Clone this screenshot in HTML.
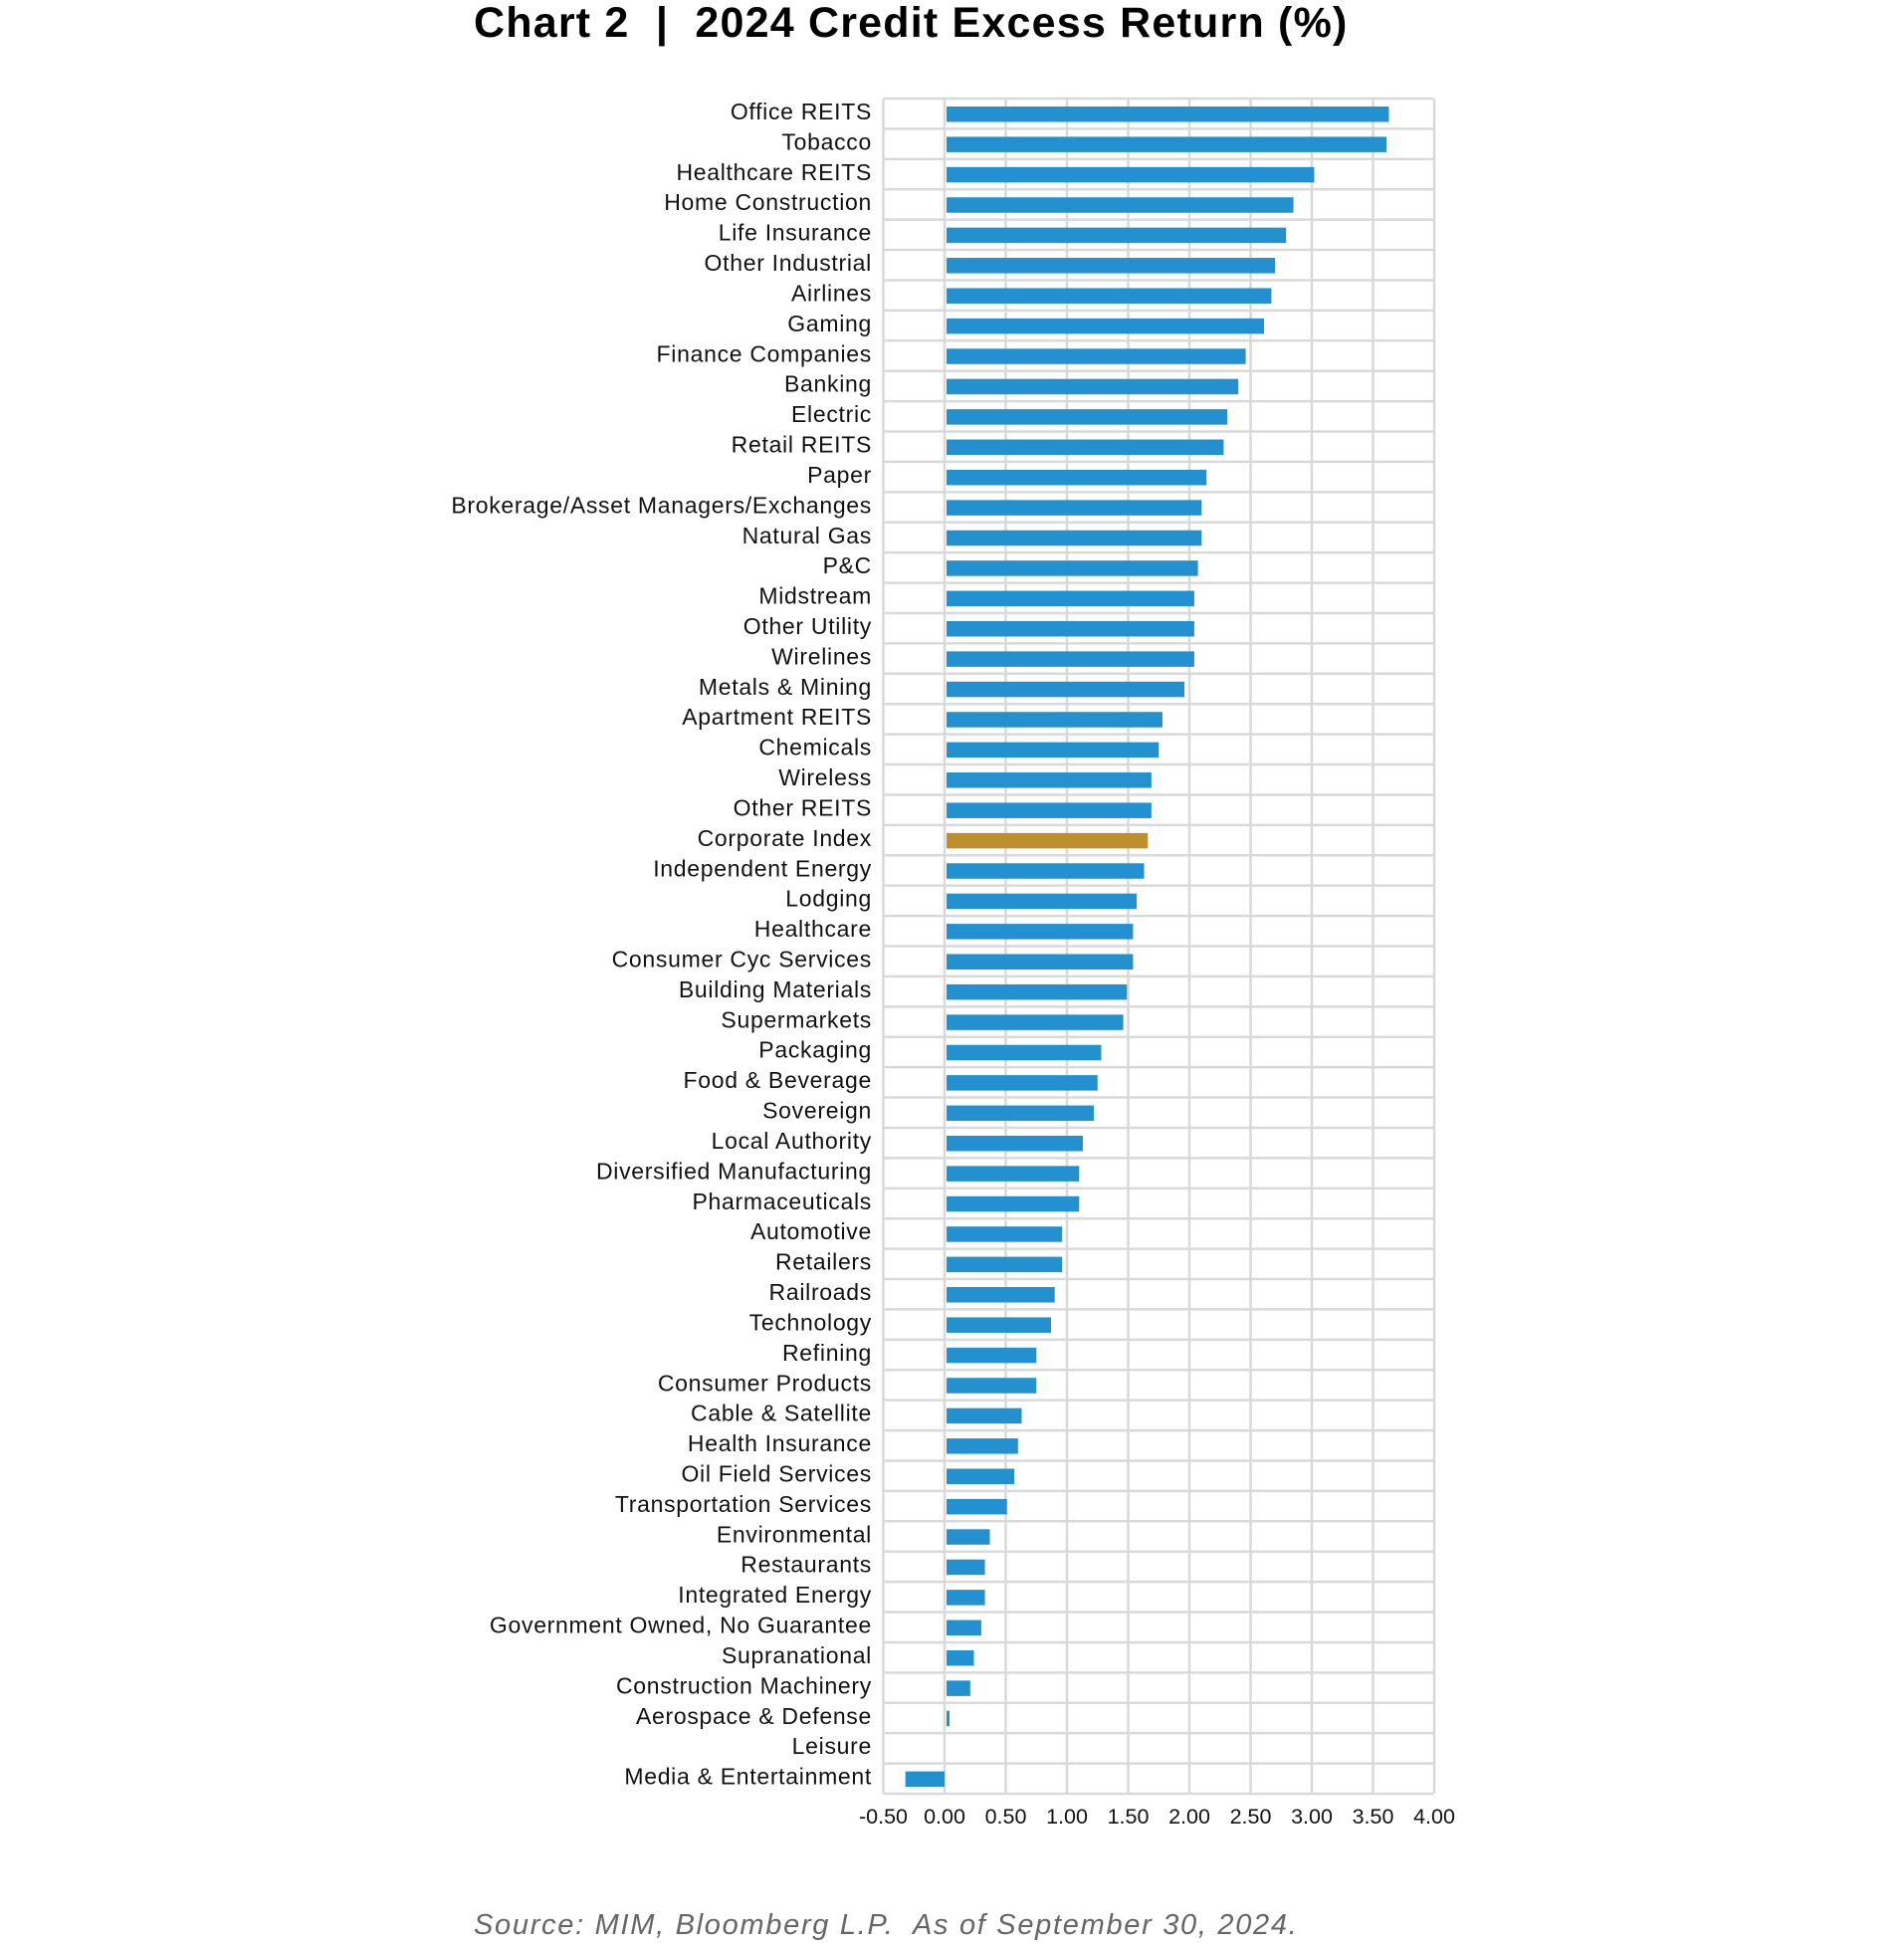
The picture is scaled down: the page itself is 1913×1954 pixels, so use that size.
<!DOCTYPE html>
<html><head><meta charset="utf-8"><style>
html,body{margin:0;padding:0;background:#fff;}
body{width:1913px;height:1949px;position:relative;overflow:hidden;font-family:"Liberation Sans",sans-serif;}
</style></head><body>
<svg width="1913" height="1949" xmlns="http://www.w3.org/2000/svg" font-family="Liberation Sans, sans-serif">
<defs><clipPath id="lc"><rect x="447" y="0" width="500" height="1949"/></clipPath></defs>
<text x="476" y="37" font-size="43" font-weight="bold" fill="#000" letter-spacing="1.2" style="white-space:pre">Chart 2  |  2024 Credit Excess Return (%)</text>
<g id="chart"></g>
<text x="476" y="1943" font-size="29" font-style="italic" fill="#666" letter-spacing="1.7" style="white-space:pre">Source: MIM, Bloomberg L.P.  As of September 30, 2024.</text>
</svg>
<script>
const d=[["Office REITS",3.63],["Tobacco",3.61],["Healthcare REITS",3.02],["Home Construction",2.85],["Life Insurance",2.79],["Other Industrial",2.7],["Airlines",2.67],["Gaming",2.61],["Finance Companies",2.46],["Banking",2.4],["Electric",2.31],["Retail REITS",2.28],["Paper",2.14],["Brokerage/Asset Managers/Exchanges",2.1],["Natural Gas",2.1],["P&C",2.07],["Midstream",2.04],["Other Utility",2.04],["Wirelines",2.04],["Metals & Mining",1.96],["Apartment REITS",1.78],["Chemicals",1.75],["Wireless",1.69],["Other REITS",1.69],["Corporate Index",1.66],["Independent Energy",1.63],["Lodging",1.57],["Healthcare",1.54],["Consumer Cyc Services",1.54],["Building Materials",1.49],["Supermarkets",1.46],["Packaging",1.28],["Food & Beverage",1.25],["Sovereign",1.22],["Local Authority",1.13],["Diversified Manufacturing",1.1],["Pharmaceuticals",1.1],["Automotive",0.96],["Retailers",0.96],["Railroads",0.9],["Technology",0.87],["Refining",0.75],["Consumer Products",0.75],["Cable & Satellite",0.63],["Health Insurance",0.6],["Oil Field Services",0.57],["Transportation Services",0.51],["Environmental",0.37],["Restaurants",0.33],["Integrated Energy",0.33],["Government Owned, No Guarantee",0.3],["Supranational",0.24],["Construction Machinery",0.21],["Aerospace & Defense",0.03],["Leisure",0],["Media & Entertainment",-0.32]];
const T=99,B=1802,L=888,R=1440,Z=949,U=123,rh=(B-T)/56;
let s='';
for(let i=-1;i<=8;i++){const x=Z+i*U/2;s+=`<line x1="${x}" y1="${T}" x2="${x}" y2="${B}" stroke="#d9d9d9" stroke-width="2.5"/>`;
s+=`<text x="${x}" y="${B+30}" font-size="21.5" text-anchor="middle" fill="#111">${(i/2).toFixed(2)}</text>`;}
for(let i=0;i<=56;i++){const y=T+i*rh;s+=`<line x1="${L}" y1="${y}" x2="${R}" y2="${y}" stroke="#d9d9d9" stroke-width="2.5"/>`;}
d.forEach((r,i)=>{const top=T+i*rh;const v=r[1];const x1=Math.min(Z,Z+v*U),w=Math.abs(v*U);
if(w>0)s+=`<rect x="${x1+(v>0?2:0)}" y="${top+8}" width="${Math.max(w-(v>0?2:0),3)}" height="15.5" fill="${r[0]=='Corporate Index'?'#bf8f2e':'#2390d0'}"/>`;
s+=`<text x="876" y="${top+21}" font-size="23" letter-spacing="0.7" text-anchor="end" fill="#111" clip-path="url(#lc)">${r[0].replace('&','&amp;')}</text>`;});
document.getElementById('chart').innerHTML=s;
</script>
</body></html>
